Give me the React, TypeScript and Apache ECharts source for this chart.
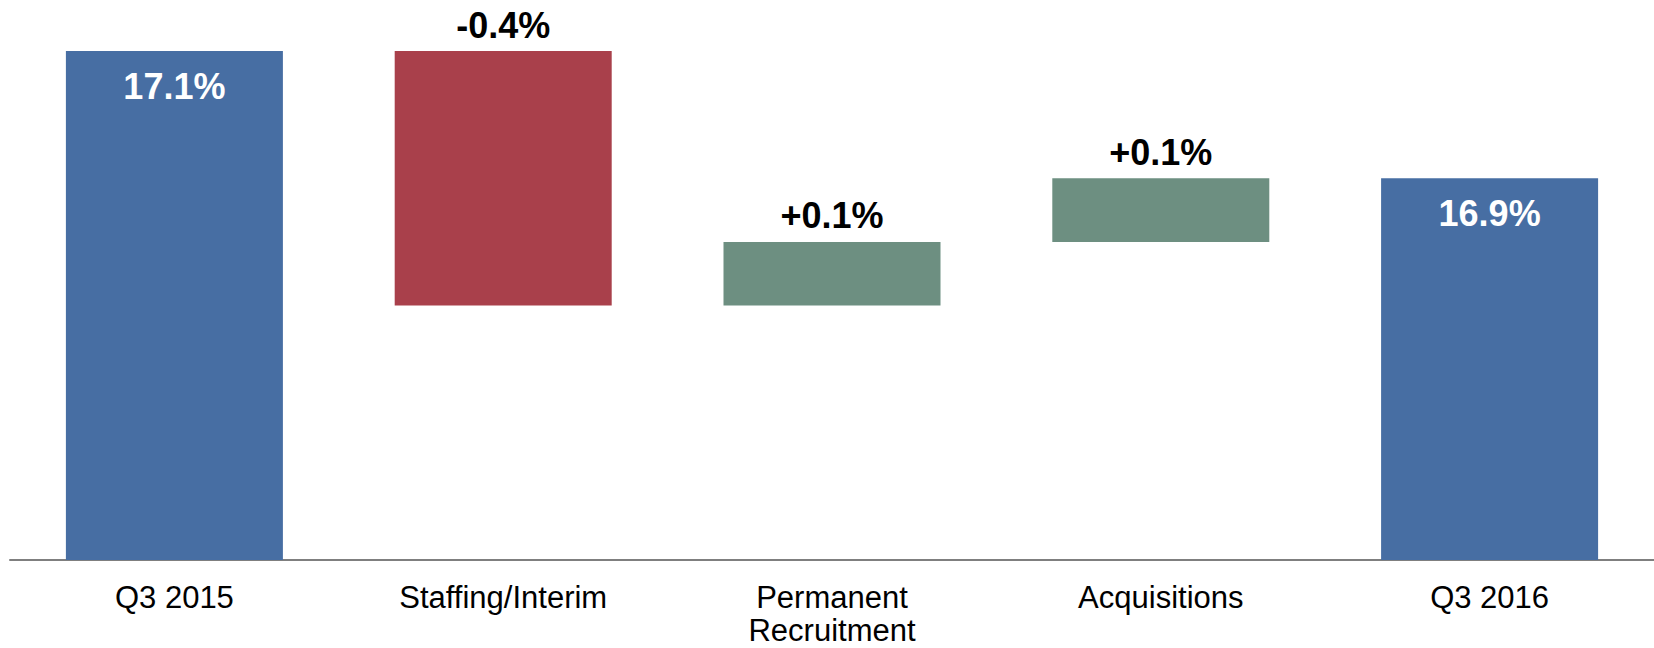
import React, { useEffect, useRef } from "react";
import * as echarts from "echarts";

// Operating margin bridge, Q3 2015 -> Q3 2016
const categories = [
  "Q3 2015",
  "Staffing/Interim",
  "Permanent\nRecruitment",
  "Acquisitions",
  "Q3 2016",
];
const startValue = 17.1;
const changes = [-0.4, 0.1, 0.1];
const endValue = 16.9;

// visible window of the value axis
const axisMin = 16.3;
const axisMax = 17.1;

const BLUE = "#476ea3";
const RED = "#a9404b";
const GREEN = "#6d8f81";
const FONT = '"Liberation Sans", Arial, sans-serif';

function buildSeries() {
  const base: (number | string)[] = ["-"];
  const delta: any[] = ["-"];
  let running = startValue;
  changes.forEach((c) => {
    const next = +(running + c).toFixed(4);
    base.push(Math.min(running, next));
    delta.push({
      value: Math.abs(c),
      change: c,
      itemStyle: { color: c < 0 ? RED : GREEN },
    });
    running = next;
  });
  base.push("-");
  delta.push("-");
  const totals: (number | string)[] = [startValue, ...changes.map(() => "-"), endValue];
  return { base, delta, totals };
}

export default function App() {
  const ref = useRef<HTMLDivElement>(null);

  useEffect(() => {
    document.body.style.margin = "0";
    document.body.style.overflow = "hidden";
    if (!ref.current) return;
    const chart = echarts.init(ref.current, undefined, { renderer: "svg" });
    const { base, delta, totals } = buildSeries();

    chart.setOption({
      animation: false,
      backgroundColor: "#ffffff",
      grid: { left: 10, right: 0, top: 51, bottom: 88, containLabel: false },
      xAxis: {
        type: "category",
        data: categories,
        axisLine: { show: true, lineStyle: { color: "#7f7f7f", width: 2 } },
        axisTick: { show: false },
        axisLabel: {
          color: "#000000",
          fontFamily: FONT,
          fontSize: 31,
          lineHeight: 33,
          margin: 21,
          interval: 0,
        },
        splitLine: { show: false },
      },
      yAxis: {
        type: "value",
        min: axisMin,
        max: axisMax,
        show: false,
        splitLine: { show: false },
      },
      series: [
        {
          name: "base",
          type: "bar",
          stack: "bridge",
          barWidth: "66%",
          data: base,
          itemStyle: { color: "transparent" },
          silent: true,
        },
        {
          name: "change",
          type: "bar",
          stack: "bridge",
          barWidth: "66%",
          data: delta,
          label: {
            show: true,
            position: "top",
            distance: 8,
            color: "#000000",
            fontFamily: FONT,
            fontWeight: "bold",
            fontSize: 36,
            formatter: (p: any) => {
              const c = p.data.change as number;
              return (c > 0 ? "+" : "") + c.toFixed(1) + "%";
            },
          },
        },
        {
          name: "margin",
          type: "bar",
          barWidth: "66%",
          barGap: "-100%",
          data: totals,
          itemStyle: { color: BLUE },
          label: {
            show: true,
            position: "insideTop",
            distance: 17,
            color: "#ffffff",
            fontFamily: FONT,
            fontWeight: "bold",
            fontSize: 36,
            formatter: (p: any) => (p.value as number).toFixed(1) + "%",
          },
        },
      ],
    });

    return () => chart.dispose();
  }, []);

  return <div ref={ref} style={{ width: 1654, height: 648 }} />;
}
